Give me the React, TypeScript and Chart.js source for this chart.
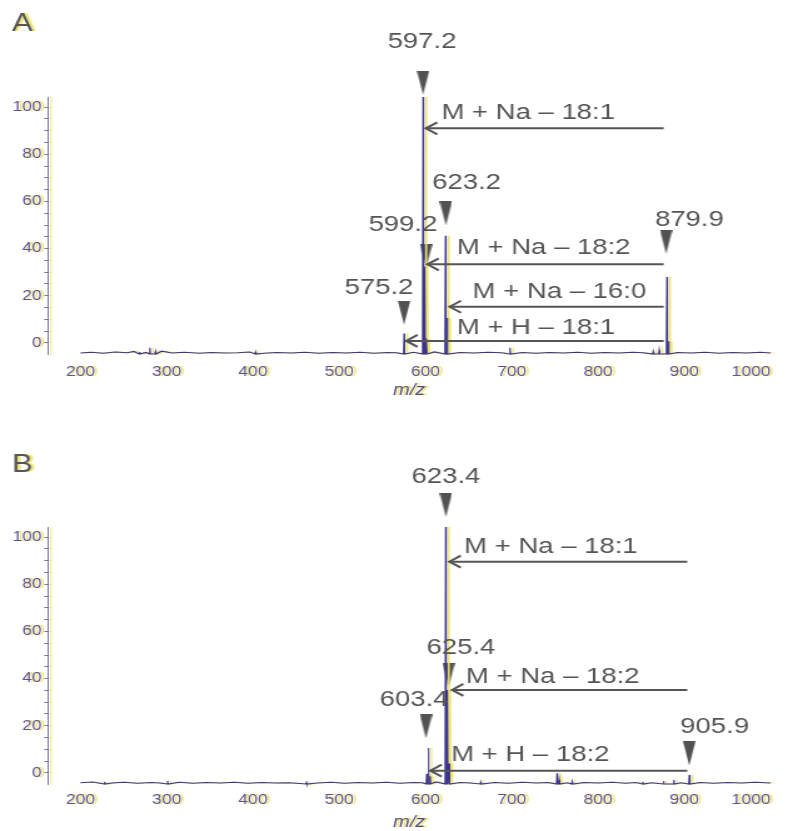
import React, { useEffect, useRef } from 'react';
import { Chart, registerables } from 'chart.js';
Chart.register(...registerables);

// ---------- shared axis data ----------
const X_AXIS_MIN = 162.4;
const X_AXIS_MAX = 1000;
const xTickValues = [200, 300, 400, 500, 600, 700, 800, 900, 1000];
// printed intensity axis (its labels sit slightly inside the plotted 0–100 range)
const Y_LABEL_MIN = -4.7;
const Y_LABEL_MAX = 104.3;
const yTickLabels = [0, 20, 40, 60, 80, 100];
const yMinorTicks = [0, 5, 10, 15, 20, 25, 30, 35, 40, 45, 50, 55, 60, 65, 70, 75, 80, 85, 90, 95, 100];

// ---------- panel A ----------
const peaksA: [number, number][] = [
  [268.5, 0.8], [280.5, 2.4], [287, 1.0], [403, 0.8], [575.2, 8], [597.2, 100],
  [599.2, 34], [601.2, 6], [623.2, 46], [625.2, 14], [698, 2.4], [864, 1.0],
  [871, 1.6], [879.9, 30], [881.9, 5],
];
const noiseA: [number, number][] = [
  [200, 0.4], [212, 0.7], [226, 0.3], [240, 0.8], [254, 0.5], [262, 1.0], [276, 0.6],
  [294, 1.1], [306, 0.4], [320, 0.7], [338, 0.3], [352, 0.6], [366, 0.4], [382, 0.5],
  [396, 0.8], [412, 0.3], [428, 0.6], [444, 0.4], [460, 0.7], [476, 0.3], [492, 0.6],
  [508, 0.4], [524, 0.7], [540, 0.3], [556, 0.6], [566, 0.5], [586, 0.7], [610, 0.8],
  [640, 0.6], [656, 0.4], [672, 0.7], [688, 0.5], [712, 0.6], [728, 0.3], [744, 0.6],
  [760, 0.4], [776, 0.7], [792, 0.3], [808, 0.6], [824, 0.4], [840, 0.7], [852, 0.5],
  [892, 0.6], [908, 0.4], [924, 0.7], [940, 0.3], [956, 0.6], [972, 0.4], [988, 0.7],
  [1000, 0.4],
];
const markersA: [number, number][] = [
  [597.2, 105.6], [600.6, 38.1], [623.6, 54.7], [575.2, 16.1], [879.0, 43.7],
];
const markerLabelsA: [string, number, number][] = [
  ['597.2', 596.0, 121.4], ['623.2', 647.7, 66.4], ['599.2', 573.9, 50.2],
  ['879.9', 906.0, 52.1], ['575.2', 546.2, 25.6],
];
// [text, arrow tip m/z, arrow tail m/z, arrow level, text m/z, text level]
const arrowsA: [string, number, number, number, number, number][] = [
  ['M + Na – 18:1', 599.7, 876.2, 87.8, 719.1, 93.8],
  ['M + Na – 18:2', 601.5, 876.2, 34.9, 737.1, 41.1],
  ['M + Na – 16:0', 627.3, 876.2, 18.4, 755.3, 24.2],
  ['M + H – 18:1', 576.9, 876.2, 5.1, 728.1, 10.0],
];

// ---------- panel B ----------
const peaksB: [number, number][] = [
  [228, 0.8], [301, 1.2], [462, 0.6], [601.4, 4], [603.4, 14], [605.4, 3],
  [623.4, 100], [625.4, 36.6], [627.4, 8], [664, 0.8], [752.5, 4.2], [755, 1.6],
  [770, 1.0], [852, 0.8], [876, 1.2], [888, 1.6], [905.9, 3.5],
];
const noiseB: [number, number][] = [
  [200, 0.5], [214, 0.8], [236, 0.4], [250, 0.7], [266, 0.3], [282, 0.6], [292, 0.4],
  [314, 0.7], [330, 0.3], [346, 0.6], [362, 0.4], [378, 0.7], [394, 0.3], [410, 0.6],
  [426, 0.4], [442, 0.5], [474, 0.4], [490, 0.7], [506, 0.3], [522, 0.6], [538, 0.4],
  [554, 0.7], [570, 0.3], [586, 0.6], [596, 0.5], [612, 0.8], [640, 0.6], [652, 0.4],
  [680, 0.6], [696, 0.3], [712, 0.7], [728, 0.4], [742, 0.6], [764, 0.5], [784, 0.6],
  [800, 0.4], [816, 0.7], [832, 0.3], [844, 0.6], [862, 0.5], [896, 0.5], [918, 0.6],
  [934, 0.3], [950, 0.6], [966, 0.4], [982, 0.7], [1000, 0.4],
];
const markersB: [number, number][] = [
  [623.6, 108.6], [626.7, 42.4], [600.5, 22.4], [905.8, 11.9],
];
const markerLabelsB: [string, number, number][] = [
  ['623.4', 623.7, 119.6], ['625.4', 641.2, 52.9], ['603.4', 586.8, 32.7],
  ['905.9', 935.3, 22.3],
];
const arrowsB: [string, number, number, number, number, number][] = [
  ['M + Na – 18:1', 627.0, 903.5, 86.5, 745.4, 92.3],
  ['M + Na – 18:2', 630.0, 903.5, 36.6, 747.6, 41.8],
  ['M + H – 18:2', 604.9, 903.5, 5.2, 721.5, 11.3],
];

// ---------- styling ----------
const FONT = '"Liberation Sans", Arial, sans-serif';
const AXIS_COLOR = '#7a72b0';
const TICK_COLOR = '#5a5096';
const SPEC_COLOR = '#3c348c';
const ANNOT_COLOR = '#555555';
const GHOST = 'rgba(236, 228, 100, 0.9)';
const LOGICAL_W = 646;
const PAGE_W = 808;

function buildSpectrum(noise: [number, number][], peaks: [number, number][]) {
  const pts: { x: number; y: number }[] = noise.map(([x, y]) => ({ x, y }));
  peaks.forEach(([m, h]) => {
    pts.push({ x: m - 0.6, y: 0 }, { x: m, y: h }, { x: m + 0.6, y: 0 });
  });
  pts.sort((a, b) => a.x - b.x);
  return pts;
}

function makeTriangle() {
  const c = document.createElement('canvas');
  c.width = 10;
  c.height = 24;
  const g = c.getContext('2d')!;
  g.fillStyle = '#525252';
  g.beginPath();
  g.moveTo(0, 0);
  g.lineTo(10, 0);
  g.lineTo(5, 24);
  g.closePath();
  g.fill();
  return c;
}

function setGhost(ctx: CanvasRenderingContext2D) {
  ctx.shadowColor = GHOST;
  ctx.shadowOffsetX = 2.4;
  ctx.shadowOffsetY = 0;
  ctx.shadowBlur = 0;
}

function makePlugin(
  arrows: [string, number, number, number, number, number][],
  labels: [string, number, number][]
) {
  return {
    id: 'annotations',
    beforeDraw(chart: any) {
      chart.ctx.save();
      setGhost(chart.ctx);
    },
    beforeDatasetsDraw(chart: any) {
      chart.ctx.restore();
    },
    beforeDatasetDraw(chart: any, args: any) {
      if (args.index === 0) {
        chart.ctx.save();
        setGhost(chart.ctx);
      }
    },
    afterDatasetDraw(chart: any, args: any) {
      if (args.index === 0) chart.ctx.restore();
    },
    afterDraw(chart: any) {
      const ctx = chart.ctx;
      const xs = chart.scales.x;
      const ys = chart.scales.y;
      ctx.save();
      ctx.strokeStyle = ANNOT_COLOR;
      ctx.fillStyle = ANNOT_COLOR;
      ctx.lineWidth = 2;
      ctx.font = `22px ${FONT}`;
      ctx.textAlign = 'center';
      ctx.textBaseline = 'middle';
      arrows.forEach(([text, tip, tail, lvl, tx, ty]) => {
        const x1 = xs.getPixelForValue(tip);
        const x2 = xs.getPixelForValue(tail);
        const y = ys.getPixelForValue(lvl);
        ctx.beginPath();
        ctx.moveTo(x1, y);
        ctx.lineTo(x2, y);
        ctx.stroke();
        ctx.beginPath();
        ctx.moveTo(x1 + 9.6, y - 6);
        ctx.lineTo(x1 + 0.5, y);
        ctx.lineTo(x1 + 9.6, y + 6);
        ctx.stroke();
        ctx.fillText(text, xs.getPixelForValue(tx), ys.getPixelForValue(ty));
      });
      labels.forEach(([text, lx, ly]) => {
        ctx.fillText(text, xs.getPixelForValue(lx), ys.getPixelForValue(ly));
      });
      ctx.restore();
    },
  };
}

type PanelProps = {
  letter: string;
  height: number;
  top: number;
  titlePad: { top: number; bottom: number };
  xAxisHeight: number;
  xTickPad: number;
  bottomPad: number;
  noise: [number, number][];
  peaks: [number, number][];
  markers: [number, number][];
  labels: [string, number, number][];
  arrows: [string, number, number, number, number, number][];
};

function Panel(p: PanelProps) {
  const ref = useRef<HTMLCanvasElement>(null);
  useEffect(() => {
    if (!ref.current) return;
    const tri = makeTriangle();
    const chart = new Chart(ref.current, {
      type: 'scatter',
      data: {
        datasets: [
          {
            data: buildSpectrum(p.noise, p.peaks),
            showLine: true,
            borderColor: SPEC_COLOR,
            borderWidth: 1.1,
            pointRadius: 0,
            clip: false as any,
          },
          {
            data: p.markers.map(([x, y]) => ({ x, y })),
            showLine: false,
            pointStyle: tri as any,
            pointRadius: 30,
            pointBorderWidth: 0,
            clip: false as any,
          },
        ],
      },
      options: {
        responsive: false,
        animation: false,
        devicePixelRatio: 1,
        events: [],
        layout: { padding: { left: 9.6, right: 2, top: 0, bottom: p.bottomPad } },
        plugins: {
          legend: { display: false },
          tooltip: { enabled: false },
          title: {
            display: true,
            text: p.letter,
            align: 'start',
            color: '#555555',
            font: { family: FONT, size: 25, weight: 'normal' as any },
            padding: p.titlePad,
          },
        },
        scales: {
          x: {
            type: 'linear',
            min: X_AXIS_MIN,
            max: X_AXIS_MAX,
            afterBuildTicks: (s: any) => {
              s.ticks = [X_AXIS_MIN, ...xTickValues].map((value) => ({ value }));
            },
            afterFit: (s: any) => {
              s.paddingLeft = 0;
              s.paddingRight = 0;
              s.height = p.xAxisHeight;
            },
            grid: { display: false, drawTicks: false },
            border: { display: false },
            ticks: {
              autoSkip: false,
              maxRotation: 0,
              minRotation: 0,
              align: 'inner',
              padding: p.xTickPad,
              color: TICK_COLOR,
              font: { family: FONT, size: 14 },
              callback: (v: any) => (v === X_AXIS_MIN ? '' : String(v)),
            },
            title: {
              display: true,
              text: 'm/z',
              color: '#4f4a7a',
              font: { family: FONT, size: 16, style: 'italic', lineHeight: 1 },
              padding: { top: 0, bottom: 0 },
            },
          },
          y: {
            type: 'linear',
            display: false,
            min: 0,
            max: 100,
          },
          yl: {
            type: 'linear',
            position: 'left',
            weight: 1,
            min: Y_LABEL_MIN,
            max: Y_LABEL_MAX,
            afterBuildTicks: (s: any) => {
              s.ticks = yMinorTicks.map((value) => ({ value }));
            },
            afterFit: (s: any) => {
              s.width = 28.8;
            },
            grid: {
              display: true,
              drawOnChartArea: false,
              drawTicks: true,
              tickLength: 3,
              color: AXIS_COLOR,
            },
            border: { display: true, color: AXIS_COLOR, width: 1 },
            ticks: {
              autoSkip: false,
              padding: 2,
              color: TICK_COLOR,
              font: { family: FONT, size: 14 },
              callback: (v: any) => (yTickLabels.includes(v) ? String(v) : ''),
            },
          },
        },
      } as any,
      plugins: [makePlugin(p.arrows, p.labels)],
    });
    return () => chart.destroy();
  }, []);
  return (
    <canvas
      ref={ref}
      width={LOGICAL_W}
      height={p.height}
      style={{ position: 'absolute', left: 0, top: p.top, width: PAGE_W, height: p.height }}
    />
  );
}

export default function App() {
  useEffect(() => {
    document.body.style.margin = '0';
  }, []);
  return (
    <div style={{ position: 'relative', width: 808, height: 831, background: '#ffffff' }}>
      <Panel
        letter="A"
        height={400}
        top={0}
        titlePad={{ top: 9, bottom: 58 }}
        xAxisHeight={45}
        xTickPad={10}
        bottomPad={1}
        noise={noiseA}
        peaks={peaksA}
        markers={markersA}
        labels={markerLabelsA}
        arrows={arrowsA}
      />
      <Panel
        letter="B"
        height={431}
        top={400}
        titlePad={{ top: 50, bottom: 47 }}
        xAxisHeight={47}
        xTickPad={8}
        bottomPad={0}
        noise={noiseB}
        peaks={peaksB}
        markers={markersB}
        labels={markerLabelsB}
        arrows={arrowsB}
      />
    </div>
  );
}
